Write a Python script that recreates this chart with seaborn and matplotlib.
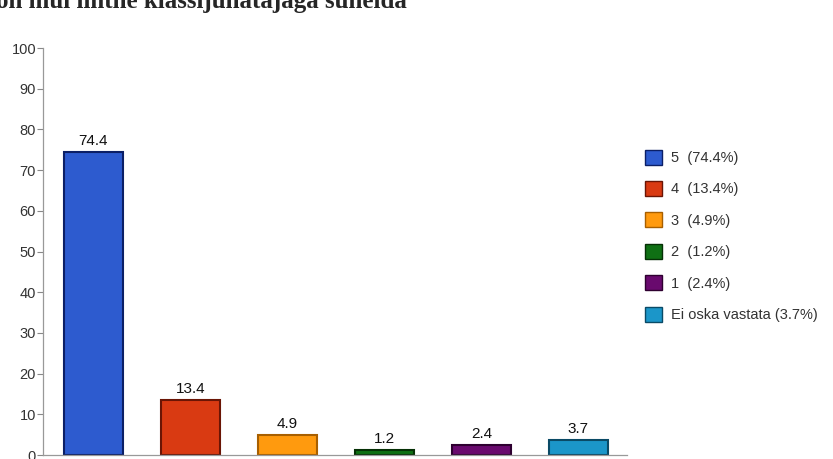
import numpy as np
import pandas as pd
import matplotlib
matplotlib.use("Agg")
import matplotlib.pyplot as plt
import seaborn as sns
from matplotlib.patches import Patch

# andmed
categories = ["5", "4", "3", "2", "1", "Ei oska vastata"]
values = [74.4, 13.4, 4.9, 1.2, 2.4, 3.7]
legend_labels = ["5  (74.4%)", "4  (13.4%)", "3  (4.9%)", "2  (1.2%)",
                 "1  (2.4%)", "Ei oska vastata (3.7%)"]
colors = ["#2D5BCF", "#D93A12", "#FF9A0E", "#0F7014", "#690A6E", "#1B96C9"]
edges = ["#0B1F66", "#6A1505", "#A85F00", "#053005", "#2E0030", "#0A4A66"]
y_ticks = [0, 10, 20, 30, 40, 50, 60, 70, 80, 90, 100]
title = "on mul lihtne klassijuhatajaga suhelda"

sns.set_style("white")
plt.rcParams['font.family'] = ['Liberation Sans', 'DejaVu Sans']

df = pd.DataFrame({"kat": categories, "vaartus": values})

fig = plt.figure(figsize=(8.33, 4.59), dpi=100)
ax = fig.add_axes([0.0516, 0.0087, 0.701, 0.8867])

sns.barplot(data=df, x="kat", y="vaartus", hue="kat", palette=colors,
            legend=False, width=0.61, ax=ax, saturation=1)

for bar, ec in zip(ax.patches, edges):
    bar.set_edgecolor(ec)
    bar.set_linewidth(1.5)

for bar, v in zip(ax.patches, values):
    ax.text(bar.get_x() + bar.get_width() / 2, v + 1.0, f"{v}",
            ha="center", va="bottom", fontsize=11, color="#111111")

ax.set_xlim(-0.52, 5.5)
ax.set_ylim(0, 100)
ax.set_yticks(y_ticks)
ax.set_xticks([])
ax.set_xlabel("")
ax.set_ylabel("")
ax.tick_params(axis="y", left=True, length=4, width=0.8, color="#888888",
               labelsize=10.5, labelcolor="#333333", pad=1)
for s in ["top", "right"]:
    ax.spines[s].set_visible(False)
ax.spines["left"].set_color("#999999")
ax.spines["bottom"].set_color("#999999")
ax.spines["left"].set_linewidth(0.9)
ax.spines["bottom"].set_linewidth(0.9)

handles = [Patch(facecolor=c, edgecolor=e, linewidth=1) for c, e in zip(colors, edges)]
fig.legend(handles, legend_labels, loc="upper left", bbox_to_anchor=(0.765, 0.69),
           frameon=False, fontsize=10.5, handlelength=1.2, handleheight=1.2,
           handletextpad=0.6, labelspacing=1.1, borderpad=0, labelcolor="#333333")

fig.text(-4 / 833, 1 - 8 / 459, title, ha="left", va="baseline",
         fontsize=18, fontweight="bold", family=["Liberation Serif", "DejaVu Serif"])

fig.savefig("out.png", dpi=100)
